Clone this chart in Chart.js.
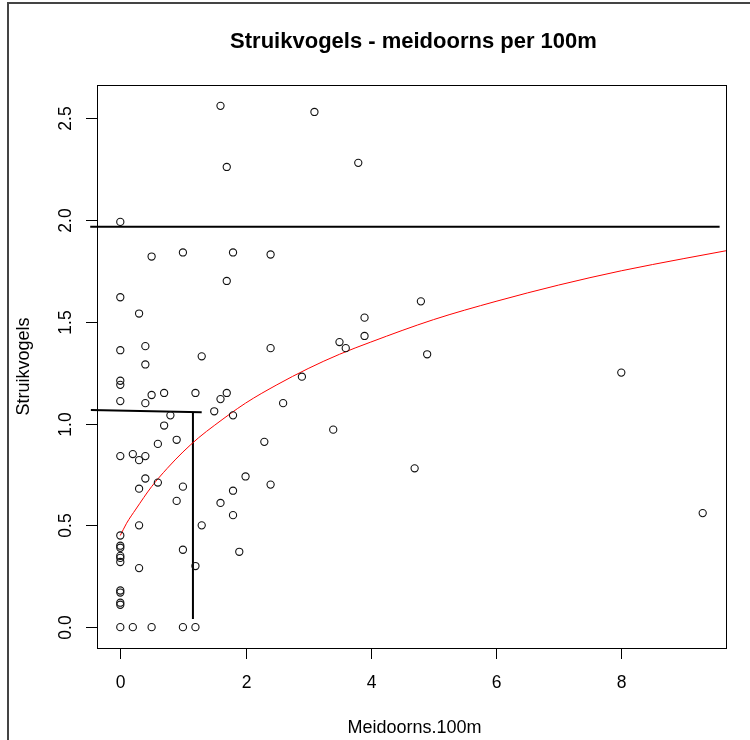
<!DOCTYPE html>
<html>
<head>
<meta charset="utf-8">
<title>Struikvogels - meidoorns per 100m</title>
<script src="https://cdn.jsdelivr.net/npm/chart.js@4.4.1/dist/chart.umd.min.js"></script>
<style>
  html, body { margin: 0; padding: 0; background: #fff; }
  #wrap { position: relative; width: 750px; height: 740px; overflow: hidden; }
  #frame {
    position: absolute; left: 7px; top: 2px; width: 900px; height: 900px;
    border-left: 2px solid #444; border-top: 2px solid #444;
  }
  #plot { position: absolute; left: 0; top: 0; }
</style>
</head>
<body>
<div id="wrap">
  <div id="frame"></div>
  <canvas id="plot" width="750" height="740"></canvas>
</div>
<script>
// Meidoorns per 100m (x) and aantal struikvogels (y) per transect
const meidoorns = [
  1.6, 1.7, 0, 0.5, 1.0, 1.8, 2.4, 1.7, 0, 0.3,
  0, 0.4, 0.4, 1.3, 2.4, 0, 0, 0, 0.4, 0.5,
  0.7, 1.2, 1.6, 1.7, 2.9, 2.6, 0.8, 1.5, 1.8, 0.7,
  0.6, 0.9, 2.3, 0, 0.2, 0.3, 0.4, 0.4, 2.0, 0.6,
  0.3, 1.0, 0.9, 0.3, 0, 0, 0, 0, 0, 0,
  1.0, 0.3, 1.2, 1.3, 0, 0, 0, 0, 0, 0.2,
  0.5, 1.0, 1.2, 2.4, 1.8, 1.6, 1.8, 1.9, 3.1, 3.8,
  4.8, 3.9, 3.9, 3.5, 3.6, 4.9, 3.4, 4.7, 8.0, 9.3
];
const struikvogels = [
  2.56, 2.26, 1.99, 1.82, 1.84, 1.84, 1.83, 1.70, 1.62, 1.54,
  1.36, 1.38, 1.29, 1.33, 1.37, 1.21, 1.19, 1.11, 1.10, 1.14,
  1.15, 1.15, 1.12, 1.15, 1.23, 1.10, 1.04, 1.06, 1.04, 0.99,
  0.90, 0.92, 0.91, 0.84, 0.85, 0.82, 0.84, 0.73, 0.74, 0.71,
  0.68, 0.69, 0.62, 0.50, 0.45, 0.40, 0.39, 0.35, 0.34, 0.32,
  0.38, 0.29, 0.30, 0.50, 0.18, 0.17, 0.12, 0.11, 0, 0,
  0, 0, 0, 0.70, 0.67, 0.61, 0.55, 0.37, 2.53, 2.28,
  1.60, 1.52, 1.43, 1.40, 1.37, 1.34, 0.97, 0.78, 1.25, 0.56
];

// fitted curve (red)
const curveX = [0, 0.1, 0.25, 0.5, 0.75, 1.0, 1.25, 1.5, 2.0, 2.5, 3.0, 3.5, 4.0, 5.0, 6.0, 7.0, 8.0, 9.0, 9.7];
const curveY = [0.45, 0.51, 0.58, 0.69, 0.78, 0.86, 0.93, 0.99, 1.10, 1.19, 1.27, 1.34, 1.40, 1.51, 1.60, 1.68, 1.75, 1.81, 1.85];

// hand-drawn reference lines
const topLineX = [-0.48, 9.57];
const topLineY = [1.966, 1.966];
const kneeHX = [-0.47, 1.30];
const kneeHY = [1.066, 1.055];
const kneeVX = [1.16, 1.16];
const kneeVY = [1.056, 0.04];

// axis ticks
const xTicks = [0, 2, 4, 6, 8];
const yTicks = [0, 0.5, 1.0, 1.5, 2.0, 2.5];
const yTickLabels = ['0.0', '0.5', '1.0', '1.5', '2.0', '2.5'];

const toPoints = (xs, ys) => xs.map((x, i) => ({ x: x, y: ys[i] }));

const FONT = '"Liberation Sans", Arial, sans-serif';

// R-style box, ticks and labels
const baseAxes = {
  id: 'baseAxes',
  afterDraw(chart) {
    const ctx = chart.ctx;
    const a = chart.chartArea;
    const xs = chart.scales.x;
    const ys = chart.scales.y;
    ctx.save();
    ctx.strokeStyle = '#000';
    ctx.fillStyle = '#000';
    ctx.lineWidth = 1;
    ctx.strokeRect(a.left + 0.5, a.top + 0.5, a.right - a.left, a.bottom - a.top);

    // x axis
    ctx.font = '17.5px ' + FONT;
    ctx.textAlign = 'center';
    ctx.textBaseline = 'alphabetic';
    xTicks.forEach(t => {
      const px = Math.round(xs.getPixelForValue(t)) + 0.5;
      ctx.beginPath();
      ctx.moveTo(px, a.bottom);
      ctx.lineTo(px, a.bottom + 11);
      ctx.stroke();
      ctx.fillText(String(t), px, 688);
    });

    // y axis
    yTicks.forEach((t, i) => {
      const py = Math.round(ys.getPixelForValue(t)) + 0.5;
      ctx.beginPath();
      ctx.moveTo(a.left, py);
      ctx.lineTo(a.left - 11, py);
      ctx.stroke();
      ctx.save();
      ctx.translate(71, py);
      ctx.rotate(-Math.PI / 2);
      ctx.fillText(yTickLabels[i], 0, 0);
      ctx.restore();
    });

    // axis titles
    ctx.font = '18px ' + FONT;
    ctx.fillText('Meidoorns.100m', (a.left + a.right) / 2 + 3, 733);
    ctx.save();
    ctx.translate(29, (a.top + a.bottom) / 2);
    ctx.rotate(-Math.PI / 2);
    ctx.fillText('Struikvogels', 0, 0);
    ctx.restore();

    // main title
    ctx.font = 'bold 22px ' + FONT;
    ctx.fillText('Struikvogels - meidoorns per 100m', (a.left + a.right) / 2 + 2, 48);
    ctx.restore();
  }
};

const blackLine = (xs, ys) => ({
  type: 'line',
  data: toPoints(xs, ys),
  borderColor: '#000',
  borderWidth: 2,
  pointRadius: 0,
  fill: false,
  clip: false
});

new Chart(document.getElementById('plot').getContext('2d'), {
  type: 'scatter',
  data: {
    datasets: [
      {
        label: 'Struikvogels',
        data: toPoints(meidoorns, struikvogels),
        pointStyle: 'circle',
        pointRadius: 3.6,
        borderWidth: 1.1,
        borderColor: '#111',
        backgroundColor: 'rgba(0,0,0,0)'
      },
      {
        type: 'line',
        label: 'fit',
        data: toPoints(curveX, curveY),
        borderColor: '#ff0000',
        borderWidth: 1,
        pointRadius: 0,
        fill: false,
        cubicInterpolationMode: 'monotone'
      },
      blackLine(topLineX, topLineY),
      blackLine(kneeHX, kneeHY),
      blackLine(kneeVX, kneeVY)
    ]
  },
  options: {
    responsive: false,
    animation: false,
    layout: {
      padding: { left: 97, right: 24, top: 85, bottom: 92 }
    },
    plugins: {
      legend: { display: false },
      tooltip: { enabled: false },
      title: { display: false }
    },
    scales: {
      x: { type: 'linear', min: -0.372, max: 9.672, display: false },
      y: { type: 'linear', min: -0.1024, max: 2.6624, display: false }
    }
  },
  plugins: [baseAxes]
});
</script>
</body>
</html>
